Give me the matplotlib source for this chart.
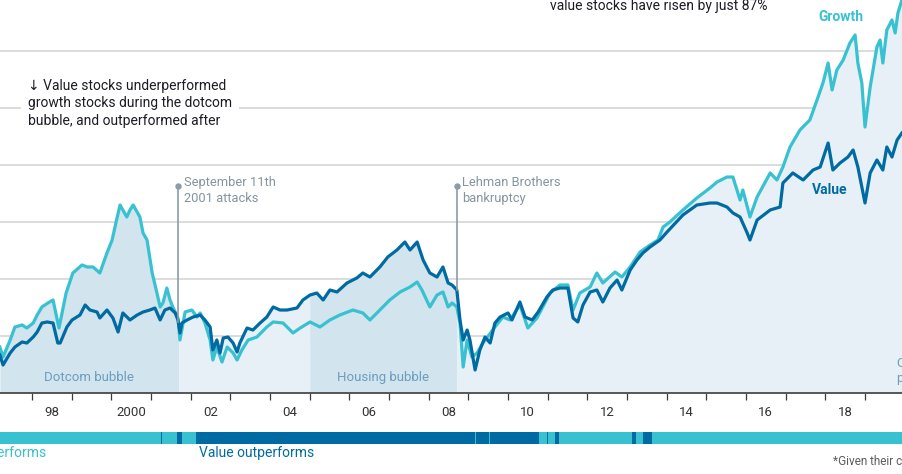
import numpy as np
import matplotlib
matplotlib.use("Agg")
import matplotlib.pyplot as plt

plt.rcParams['font.family'] = ['Roboto', 'DejaVu Sans']

# ---------------- data ----------------
growth_years = [1997.19, 1997.27, 1997.45, 1997.57, 1997.75, 1997.87, 1998.03, 1998.13, 1998.25, 1998.40,
                1998.53, 1998.68, 1998.86, 1999.03, 1999.26, 1999.39, 1999.54, 1999.71, 1999.89, 2000.02,
                2000.12, 2000.22, 2000.32, 2000.39, 2000.47, 2000.55, 2000.65, 2000.72, 2000.80, 2000.90,
                2001.03, 2001.15, 2001.23, 2001.30, 2001.40, 2001.48, 2001.55, 2001.68, 2001.73, 2001.86,
                2002.03, 2002.16, 2002.24, 2002.36, 2002.49, 2002.56, 2002.66, 2002.79, 2002.92, 2003.07,
                2003.17, 2003.29, 2003.45, 2003.67, 2003.92, 2004.08, 2004.33, 2004.58, 2004.76, 2005.01,
                2005.26, 2005.51, 2005.76, 2006.09, 2006.34, 2006.52, 2006.77, 2007.02, 2007.28, 2007.53,
                2007.71, 2007.83, 2008.03, 2008.21, 2008.36, 2008.49, 2008.59, 2008.71, 2008.79, 2008.87,
                2008.97, 2009.09, 2009.22, 2009.37, 2009.67, 2009.87, 2010.05, 2010.30, 2010.50, 2010.73,
                2011.06, 2011.31, 2011.51, 2011.64, 2011.81, 2012.07, 2012.24, 2012.39, 2012.70, 2012.87,
                2013.08, 2013.33, 2013.58, 2013.78, 2013.91, 2014.08, 2014.41, 2014.76, 2015.09, 2015.27,
                2015.52, 2015.67, 2015.85, 2015.92, 2016.10, 2016.28, 2016.61, 2016.78, 2016.93, 2017.11,
                2017.36, 2017.61, 2017.79, 2017.94, 2018.07, 2018.17, 2018.29, 2018.45, 2018.62, 2018.75,
                2018.82, 2018.92, 2019.00, 2019.13, 2019.30, 2019.38, 2019.45, 2019.55, 2019.68, 2019.76,
                2019.83, 2019.93]
growth_values = [80.7, 63.2, 93.0, 115.8, 119.3, 114.0, 122.8, 136.8, 150.9, 157.9,
                 163.2, 114.0, 175.4, 210.5, 224.6, 221.1, 221.1, 210.5, 245.6, 268.4,
                 300.0, 329.8, 317.5, 308.8, 321.1, 329.8, 317.5, 308.8, 280.7, 268.4,
                 210.5, 175.4, 150.9, 157.9, 184.2, 163.2, 150.9, 131.6, 93.0, 142.1,
                 145.6, 133.3, 140.4, 122.8, 93.0, 57.9, 80.7, 54.4, 80.7, 70.2,
                 57.9, 75.4, 93.0, 98.2, 115.8, 124.6, 122.8, 105.3, 114.0, 124.6,
                 115.8, 128.1, 136.8, 145.6, 140.4, 128.1, 145.6, 163.2, 177.2, 186.0,
                 194.7, 180.7, 150.9, 171.9, 177.2, 150.9, 157.9, 150.9, 122.8, 45.6,
                 93.0, 63.2, 70.2, 87.7, 115.8, 133.3, 128.1, 154.4, 114.0, 131.6,
                 175.4, 189.5, 189.5, 145.6, 175.4, 186.0, 210.5, 193.0, 212.3, 203.5,
                 221.1, 247.4, 259.6, 268.4, 291.2, 300.0, 321.1, 342.1, 359.6, 370.2,
                 378.9, 378.9, 338.6, 356.1, 308.8, 343.9, 386.0, 373.7, 396.5, 431.6,
                 461.4, 479.0, 514.0, 543.9, 578.9, 531.6, 566.7, 584.2, 614.0, 628.1,
                 578.9, 543.9, 466.7, 536.8, 607.0, 619.3, 578.9, 636.8, 654.4, 631.6,
                 666.7, 689.5]

value_years = [1997.19, 1997.27, 1997.45, 1997.57, 1997.75, 1997.87, 1998.03, 1998.13, 1998.25, 1998.38,
               1998.53, 1998.65, 1998.71, 1998.88, 1999.01, 1999.21, 1999.34, 1999.46, 1999.64, 1999.71,
               1999.89, 2000.04, 2000.17, 2000.29, 2000.47, 2000.65, 2000.80, 2000.97, 2001.10, 2001.23,
               2001.35, 2001.48, 2001.61, 2001.68, 2001.73, 2001.78, 2001.91, 2002.06, 2002.24, 2002.36,
               2002.49, 2002.56, 2002.66, 2002.74, 2002.82, 2002.94, 2003.07, 2003.17, 2003.24, 2003.42,
               2003.57, 2003.75, 2003.92, 2004.08, 2004.25, 2004.43, 2004.68, 2004.83, 2005.01, 2005.18,
               2005.34, 2005.51, 2005.69, 2005.94, 2006.19, 2006.34, 2006.52, 2006.77, 2006.97, 2007.20,
               2007.40, 2007.53, 2007.71, 2007.86, 2008.03, 2008.21, 2008.36, 2008.49, 2008.59, 2008.71,
               2008.79, 2008.87, 2008.97, 2009.04, 2009.17, 2009.29, 2009.42, 2009.55, 2009.67, 2009.80,
               2010.00, 2010.10, 2010.30, 2010.43, 2010.61, 2010.76, 2010.98, 2011.13, 2011.31, 2011.51,
               2011.64, 2011.76, 2011.89, 2012.07, 2012.24, 2012.39, 2012.57, 2012.75, 2012.87, 2013.08,
               2013.25, 2013.40, 2013.58, 2013.83, 2014.01, 2014.41, 2014.76, 2015.09, 2015.27, 2015.52,
               2015.67, 2015.85, 2016.03, 2016.10, 2016.28, 2016.61, 2016.86, 2016.93, 2017.18, 2017.44,
               2017.69, 2017.87, 2018.07, 2018.19, 2018.37, 2018.57, 2018.70, 2018.82, 2018.92, 2019.00,
               2019.13, 2019.30, 2019.45, 2019.55, 2019.68, 2019.81, 2019.93]
value_values = [66.7, 49.1, 70.2, 80.7, 89.5, 87.7, 98.2, 107.0, 122.8, 124.6,
                122.8, 87.7, 87.7, 115.8, 128.1, 136.8, 154.4, 145.6, 142.1, 131.6,
                145.6, 131.6, 107.0, 140.4, 128.1, 136.8, 142.1, 145.6, 149.1, 128.1,
                145.6, 149.1, 140.4, 128.1, 105.3, 122.8, 128.1, 133.3, 136.8, 128.1,
                115.8, 75.4, 93.0, 70.2, 96.5, 98.2, 87.7, 71.9, 87.7, 114.0,
                110.5, 122.8, 133.3, 150.9, 145.6, 145.6, 149.1, 163.2, 171.9, 175.4,
                163.2, 180.7, 177.2, 193.0, 201.8, 210.5, 203.5, 221.1, 238.6, 250.9,
                264.9, 250.9, 264.9, 233.3, 210.5, 203.5, 221.1, 193.0, 189.5, 180.7,
                128.1, 93.0, 110.5, 93.0, 40.4, 75.4, 98.2, 87.7, 122.8, 133.3,
                140.4, 128.1, 159.6, 133.3, 128.1, 142.1, 168.4, 180.7, 184.2, 184.2,
                131.6, 124.6, 154.4, 177.2, 180.7, 159.6, 184.2, 198.2, 180.7, 215.8,
                233.3, 245.6, 256.1, 268.4, 282.5, 312.3, 329.8, 333.3, 333.3, 326.3,
                315.8, 308.8, 280.7, 268.4, 303.5, 321.1, 326.3, 368.4, 386.0, 373.7,
                391.2, 396.5, 438.6, 391.2, 403.5, 414.0, 426.3, 396.5, 361.4, 333.3,
                386.0, 408.8, 391.2, 431.6, 414.0, 443.9, 456.1]

# shaded periods
period_labels = ['Dotcom bubble', '', 'Housing bubble', '']
period_starts = [1997.0, 2001.70, 2005.0, 2008.71]
period_ends = [2001.70, 2005.0, 2008.71, 2020.0]
period_bubble = [True, False, True, False]

# events
event_labels = ['September 11th\n2001 attacks', 'Lehman Brothers\nbankruptcy']
event_years = [2001.69, 2008.71]
event_top = 363.0

# leadership band: (start, end, leader)
band_starts = [1997.0, 2001.244, 2001.27, 2001.65, 2001.774, 2002.134, 2009.168, 2009.193,
               2009.53, 2009.555, 2010.79, 2010.98, 2011.00, 2011.18, 2011.285, 2011.45,
               2011.47, 2013.125, 2013.23, 2013.395, 2013.63]
band_ends = band_starts[1:] + [2020.0]
band_leader = ['G', 'V', 'G', 'V', 'G', 'V', 'G', 'V', 'G', 'V', 'G', 'V', 'G', 'V', 'G', 'V',
               'G', 'V', 'G', 'V', 'G']

xtick_years = list(range(1997, 2021))
xlabel_years = list(range(1998, 2020, 2))
xlabel_text = ['98', '2000', '02', '04', '06', '08', '10', '12', '14', '16', '18']

# ---------------- style ----------------
C_GROWTH = '#38c1d0'
C_VALUE = '#006ba2'
C_BUBBLE = '#d2e4ee'
C_CALM = '#e7f0f7'
C_GRID = '#d9d9d9'
C_EVENT = '#8a9ca8'
C_PERIODTXT = '#6b9dc0'

W, H = 902, 474
fig = plt.figure(figsize=(W / 100, H / 100), dpi=100)

x_left = 1998 - 32 / 39.667
x_right = 1998 + (W - 32) / 39.667
ymax = 720.0
px_per_unit = 0.57
ax_bottom_px = 393
ax_top_px = ax_bottom_px - ymax * px_per_unit
ax = fig.add_axes([0, (H - ax_bottom_px) / H, 1, (ax_bottom_px - ax_top_px) / H])
ax.patch.set_alpha(0)

# gridlines
ax.set_yticks([100, 200, 300, 400, 500, 600])
ax.yaxis.grid(True, color=C_GRID, lw=1.3)
ax.set_axisbelow(True)
ax.tick_params(axis='y', length=0, labelleft=False)

# envelope fill
gx = np.array(growth_years)
vx = np.array(value_years)
grid = np.union1d(np.union1d(gx, vx), np.clip(period_starts + period_ends, gx.min(), gx.max()))
g_i = np.interp(grid, gx, growth_values)
v_i = np.interp(grid, vx, value_values)
env = np.maximum(g_i, v_i)
for s, e, bub in zip(period_starts, period_ends, period_bubble):
    m = (grid >= s) & (grid <= e)
    ax.fill_between(grid[m], 0, env[m], color=C_BUBBLE if bub else C_CALM, lw=0, zorder=1)

# lines
ax.plot(growth_years, growth_values, color=C_GROWTH, lw=2.3, zorder=3, solid_joinstyle='round')
ax.plot(value_years, value_values, color=C_VALUE, lw=2.3, zorder=4, solid_joinstyle='round')

# events
for lab, yr in zip(event_labels, event_years):
    bottom = np.interp(yr, grid, env)
    ax.plot([yr, yr], [bottom, event_top], color=C_EVENT, lw=1.2, zorder=5)
    ax.plot([yr], [event_top], 'o', color=C_EVENT, ms=3.6, zorder=5)
    ax.annotate(lab, (yr, event_top), xytext=(4, 7), textcoords='offset points',
                ha='left', va='top', fontsize=9.3, color='#8494a0', linespacing=1.3)

# period labels
for lab, s, e in zip(period_labels, period_starts, period_ends):
    if lab:
        xc = (max(s, x_left) + e) / 2
        ax.text(xc, 28, lab, ha='center', va='center', fontsize=9.5, color=C_PERIODTXT, zorder=6)

# spines / ticks
for sp in ['top', 'left', 'right']:
    ax.spines[sp].set_visible(False)
ax.spines['bottom'].set_color('#3c3c3c')
ax.spines['bottom'].set_linewidth(1.2)
ax.spines['bottom'].set_zorder(7)
ax.set_xticks(xtick_years)
ax.set_xticklabels([])
ax.tick_params(axis='x', which='major', length=5, width=0.9, color='#3c3c3c')
ax.set_xticks([y + 0.5 for y in xlabel_years], minor=True)
ax.set_xticklabels(xlabel_text, minor=True)
ax.tick_params(axis='x', which='minor', length=0, pad=9, labelsize=9.5, labelcolor='#333333')
# limits after ticks (set_xticks may widen the view)
ax.set_xlim(x_left, x_right)
ax.set_ylim(0, ymax)


def fpx(x, y):
    return x / W, 1 - y / H


# leadership band
bax = fig.add_axes([0, (H - 444) / H, 1, 12 / H])
bax.axis('off')
for s, e, who in zip(band_starts, band_ends, band_leader):
    bax.axvspan(s, e, color=C_GROWTH if who == 'G' else C_VALUE, lw=0)
bax.set_xlim(x_left, x_right)
bax.set_ylim(0, 1)

fig.text(*fpx(46.7, 453), 'Growth outperforms', ha='right', va='center', fontsize=10, color=C_GROWTH)
fig.text(*fpx(199, 453), 'Value outperforms', ha='left', va='center', fontsize=10, color=C_VALUE)
fig.text(*fpx(833, 462), '*Given their current prices', ha='left', va='center', fontsize=8.5, color='#5c5c5c')

# series labels
fig.text(*fpx(841, 17), 'Growth', ha='center', va='center', fontsize=10, fontweight='bold', color=C_GROWTH)
fig.text(*fpx(830, 190), 'Value', ha='center', va='center', fontsize=10, fontweight='bold', color=C_VALUE)

# right edge, cut-off period label
fig.text(*fpx(896, 371), 'Covid-19\npandemic', ha='left', va='center', fontsize=9.5,
         color=C_PERIODTXT, linespacing=1.25)

# annotations
fig.text(*fpx(28, 79), '\u2193 Value stocks underperformed\ngrowth stocks during the dotcom\nbubble, and outperformed after',
         ha='left', va='top', fontsize=10, color='#1c1c24', linespacing=1.3,
         bbox=dict(fc='white', ec='none', pad=5))
fig.text(*fpx(659, 6), 'value stocks have risen by just 87%', ha='center', va='center',
         fontsize=10, color='#1c1c24')

fig.savefig('out.png', dpi=100)
